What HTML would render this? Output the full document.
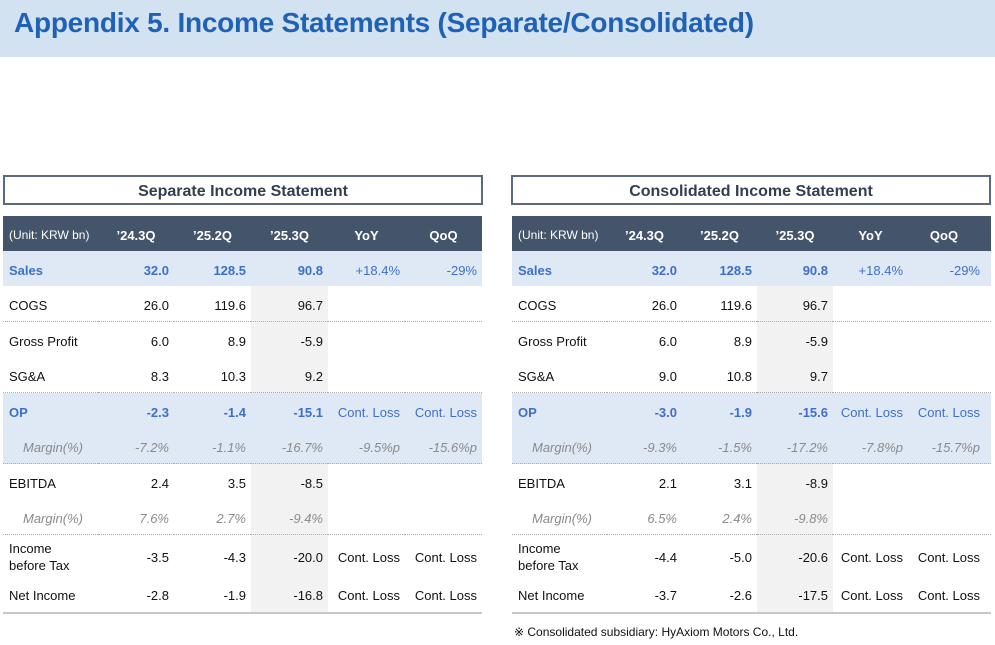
<!DOCTYPE html>
<html><head><meta charset="utf-8"><style>
body{margin:0;width:995px;height:645px;background:#fff;font-family:"Liberation Sans",sans-serif;position:relative;overflow:hidden}
.banner{position:absolute;left:0;top:0;width:995px;height:57px;background:#d3e2f1}
.banner span{position:absolute;left:14px;top:7px;font-size:28px;font-weight:bold;color:#1f62b5;letter-spacing:-0.25px}
.box{position:absolute;top:175px;height:26px;width:476px;border:2px solid #5b6a82;text-align:center;font-weight:bold;font-size:16px;line-height:29px;color:#333f50}
table{position:absolute;top:216px;border-collapse:collapse;table-layout:fixed;width:479px;font-size:13px;color:#111}
td{padding:3px 5px 0 0;text-align:right;height:32px;white-space:nowrap}
td:first-child{text-align:left;padding-left:6px}
tr.h td{background:#44546a;color:#fff;font-weight:bold;text-align:center;padding:3px 0 0 0}
tr.h td:first-child{font-weight:normal;font-size:12px;text-align:left;padding-left:6px}
tr.b td{background:#dfe9f5}
tr.blue td{color:#3e6fc6;font-weight:bold}
tr.blue td.n{font-weight:normal}
tr.m td{color:#8a8a8a;font-style:italic}
tr.m td:first-child{padding-left:20px}
td.g{background:#f2f2f2}
tr.b td.g{background:#dfe9f5}
tr.d td{border-bottom:1px dotted #aaa}
tr.last td{border-bottom:2px solid #c8c8c8}
#r td:last-child{padding-right:11px}
.note{position:absolute;left:514px;top:625px;font-size:12px;color:#111}
</style></head><body>
<div class="banner"><span>Appendix 5. Income Statements (Separate/Consolidated)</span></div>
<div class="box" style="left:3px">Separate Income Statement</div>
<div class="box" style="left:511px">Consolidated Income Statement</div>

<table style="left:3px">
<colgroup><col style="width:95px"><col style="width:76px"><col style="width:77px"><col style="width:77px"><col style="width:77px"><col style="width:77px"></colgroup>
<tr class="h"><td>(Unit: KRW bn)</td><td>’24.3Q</td><td>’25.2Q</td><td>’25.3Q</td><td>YoY</td><td>QoQ</td></tr>
<tr class="b blue"><td>Sales</td><td>32.0</td><td>128.5</td><td class="g">90.8</td><td class="n">+18.4%</td><td class="n">-29%</td></tr>
<tr class="d"><td>COGS</td><td>26.0</td><td>119.6</td><td class="g">96.7</td><td></td><td></td></tr>
<tr><td>Gross Profit</td><td>6.0</td><td>8.9</td><td class="g">-5.9</td><td></td><td></td></tr>
<tr class="d"><td>SG&amp;A</td><td>8.3</td><td>10.3</td><td class="g">9.2</td><td></td><td></td></tr>
<tr class="b blue"><td>OP</td><td>-2.3</td><td>-1.4</td><td class="g">-15.1</td><td class="n">Cont. Loss</td><td class="n">Cont. Loss</td></tr>
<tr class="b m d"><td>Margin(%)</td><td>-7.2%</td><td>-1.1%</td><td class="g">-16.7%</td><td>-9.5%p</td><td>-15.6%p</td></tr>
<tr><td>EBITDA</td><td>2.4</td><td>3.5</td><td class="g">-8.5</td><td></td><td></td></tr>
<tr class="m d"><td>Margin(%)</td><td>7.6%</td><td>2.7%</td><td class="g">-9.4%</td><td></td><td></td></tr>
<tr style="height:42px"><td style="line-height:17px">Income<br>before Tax</td><td>-3.5</td><td>-4.3</td><td class="g">-20.0</td><td>Cont. Loss</td><td>Cont. Loss</td></tr>
<tr class="last"><td>Net Income</td><td>-2.8</td><td>-1.9</td><td class="g">-16.8</td><td>Cont. Loss</td><td>Cont. Loss</td></tr>
</table>

<table id="r" style="left:512px">
<colgroup><col style="width:95px"><col style="width:75px"><col style="width:75px"><col style="width:76px"><col style="width:75px"><col style="width:83px"></colgroup>
<tr class="h"><td>(Unit: KRW bn)</td><td>’24.3Q</td><td>’25.2Q</td><td>’25.3Q</td><td>YoY</td><td>QoQ</td></tr>
<tr class="b blue"><td>Sales</td><td>32.0</td><td>128.5</td><td class="g">90.8</td><td class="n">+18.4%</td><td class="n">-29%</td></tr>
<tr class="d"><td>COGS</td><td>26.0</td><td>119.6</td><td class="g">96.7</td><td></td><td></td></tr>
<tr><td>Gross Profit</td><td>6.0</td><td>8.9</td><td class="g">-5.9</td><td></td><td></td></tr>
<tr class="d"><td>SG&amp;A</td><td>9.0</td><td>10.8</td><td class="g">9.7</td><td></td><td></td></tr>
<tr class="b blue"><td>OP</td><td>-3.0</td><td>-1.9</td><td class="g">-15.6</td><td class="n">Cont. Loss</td><td class="n">Cont. Loss</td></tr>
<tr class="b m d"><td>Margin(%)</td><td>-9.3%</td><td>-1.5%</td><td class="g">-17.2%</td><td>-7.8%p</td><td>-15.7%p</td></tr>
<tr><td>EBITDA</td><td>2.1</td><td>3.1</td><td class="g">-8.9</td><td></td><td></td></tr>
<tr class="m d"><td>Margin(%)</td><td>6.5%</td><td>2.4%</td><td class="g">-9.8%</td><td></td><td></td></tr>
<tr style="height:42px"><td style="line-height:17px">Income<br>before Tax</td><td>-4.4</td><td>-5.0</td><td class="g">-20.6</td><td>Cont. Loss</td><td>Cont. Loss</td></tr>
<tr class="last"><td>Net Income</td><td>-3.7</td><td>-2.6</td><td class="g">-17.5</td><td>Cont. Loss</td><td>Cont. Loss</td></tr>
</table>
<div class="note">※ Consolidated subsidiary: HyAxiom Motors Co., Ltd.</div>
</body></html>
